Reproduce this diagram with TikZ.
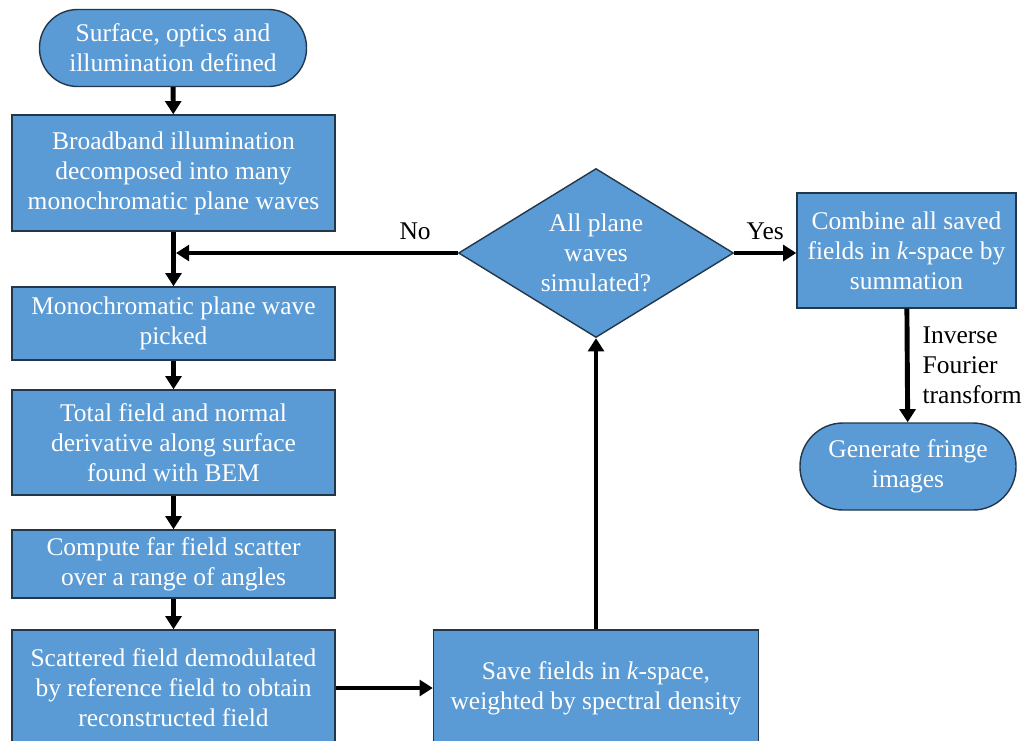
\documentclass[tikz,border=0pt]{standalone}
\usepackage{fontspec}
\setmainfont{Liberation Serif}
\usepackage{xcolor}
\usepackage{tikz}
\usetikzlibrary{arrows.meta, positioning, shapes.geometric, calc}
\definecolor{boxblue}{RGB}{91,155,213}
\definecolor{boxedge}{RGB}{35,55,75}

\begin{document}
\begin{tikzpicture}[font=\fontsize{14.5}{17}\selectfont,
  stepbox/.style={draw=boxedge, line width=0.8pt, fill=boxblue, text=white, align=center, inner sep=2pt},
  termbox/.style={stepbox, rounded corners=0.76cm},
  flow/.style={line width=2.8pt, -{Triangle[width=9pt, length=7.5pt]}}]
\clip (0,0) rectangle (20.46,-14.80);
\node[termbox, minimum width=5.34cm, minimum height=1.54cm] (start) at (3.46,-0.96)
{Surface, optics and\\illumination defined};
\node[stepbox, minimum width=6.46cm, minimum height=2.32cm] (decomp) at (3.47,-3.46)
{Broadband illumination\\decomposed into many\\monochromatic plane waves};
\node[stepbox, minimum width=6.46cm, minimum height=1.46cm] (pick) at (3.47,-6.47)
{Monochromatic plane wave\\picked};
\node[stepbox, minimum width=6.46cm, minimum height=2.10cm] (bem) at (3.47,-8.85)
{Total field and normal\\derivative along surface\\found with BEM};
\node[stepbox, minimum width=6.46cm, minimum height=1.36cm] (far) at (3.47,-11.28)
{Compute far field scatter\\over a range of angles};
\node[stepbox, minimum width=6.46cm, minimum height=2.32cm] (demod) at (3.47,-13.76)
{Scattered field demodulated\\by reference field to obtain\\reconstructed field};
\node[stepbox, minimum width=6.50cm, minimum height=2.32cm] (save) at (11.92,-13.76)
{Save fields in \textit{k}-space,\\weighted by spectral density};
\node[stepbox, diamond, aspect=1.63, inner sep=0pt, minimum width=5.50cm, minimum height=3.38cm] (done) at (11.92,-5.06)
{All plane\\waves\\simulated?};
\node[stepbox, minimum width=4.38cm, minimum height=2.30cm] (combine) at (18.13,-5.01)
{Combine all saved\\fields in \textit{k}-space by\\summation};
\node[termbox, minimum width=4.32cm, minimum height=1.74cm, rounded corners=0.86cm] (fringe) at (18.16,-9.33)
{Generate fringe\\images};

% main column
\draw[flow] (start) -- (decomp);
\draw[flow] (decomp) -- (pick);
\draw[flow] (pick) -- (bem);
\draw[flow] (bem) -- (far);
\draw[flow] (far) -- (demod);
\draw[flow] (demod) -- (save);
\draw[flow] (save) -- (done);

% loop back and finish
\draw[flow, shorten >=1.4pt] (done.west) -- node[above=3pt, pos=0.15] {No} (decomp.south |- done.west);
\draw[flow] (done.east) -- node[above=3pt] {Yes} (done.east -| combine.west);
\draw[flow] (combine) -- node[right=4pt, align=left] {Inverse\\Fourier\\transform} (fringe);
\end{tikzpicture}
\end{document}
